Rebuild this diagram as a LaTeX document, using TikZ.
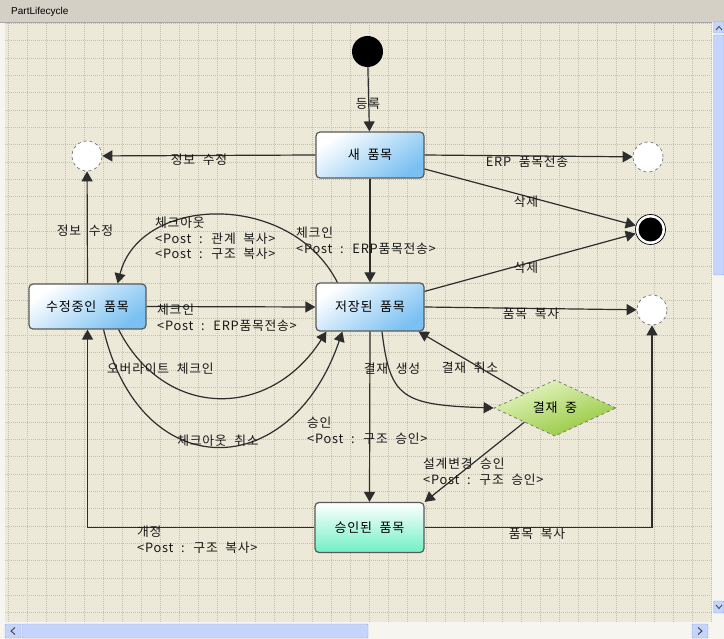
\documentclass[tikz,border=0pt]{standalone}
\usepackage{fontspec}
\setmainfont[LetterSpace=6,WordSpace=2.1]{Noto Sans CJK KR}
\newfontfamily\uifont{Liberation Sans}
\usetikzlibrary{arrows.meta,shapes.geometric,calc}
\definecolor{canvas}{RGB}{236,233,216}
\definecolor{gridc}{RGB}{196,192,176}
\definecolor{chrome}{RGB}{212,208,198}
\definecolor{linec}{RGB}{45,45,45}
\definecolor{stblue}{RGB}{122,192,242}
\definecolor{staqua}{RGB}{112,240,196}
\definecolor{stgreen}{RGB}{146,198,56}
\definecolor{stgreenl}{RGB}{232,246,200}
\definecolor{sbthumb}{RGB}{196,212,250}
\definecolor{sbedge}{RGB}{150,172,230}
\definecolor{sbtrack}{RGB}{246,245,240}
\begin{document}
\begin{tikzpicture}[x=1pt,y=-1pt,
  state/.style={rectangle, rounded corners=4pt, draw=black!65, line width=1.2pt,
    minimum width=108pt, minimum height=46pt, inner sep=0pt,
    top color=white, bottom color=stblue, shading angle=35,
    font=\fontsize{13}{15}\selectfont},
  pseudo/.style={circle, draw=black!55, dashed, line width=0.7pt, fill=white,
    minimum size=30pt, inner sep=0pt},
  arr/.style={draw=linec, line width=1.2pt, -{Triangle[length=10pt,width=11pt]}},
  lbl/.style={font=\fontsize{12.8}{15.5}\selectfont, inner sep=0pt, align=left, text=black!90}
]
\useasboundingbox (0,0) rectangle (724,639);
% window chrome
\fill[sbtrack] (0,0) rectangle (724,639);
\fill[chrome] (0,0) rectangle (724,22);
\draw[black!35, line width=0.6pt] (0,22) -- (724,22);
\node[anchor=west, font=\uifont\fontsize{10}{12}\selectfont, inner sep=0pt] (title) at (11,12) {PartLifecycle};
\fill[canvas] (5,23) rectangle (712,622);
\foreach \gx in {8,27,...,712} {
  \draw[gridc, line width=0.6pt, dash pattern=on 1pt off 1pt] (\gx,23) -- (\gx,622);
}
\foreach \gy in {23.3,40.63,...,622} {
  \draw[gridc, line width=0.6pt, dash pattern=on 1pt off 1pt] (5,\gy) -- (712,\gy);
}
% right scrollbar
\fill[sbtrack] (712,22) rectangle (724,622);
\draw[sbedge, fill=sbthumb, rounded corners=1pt] (713.5,21.5) rectangle (724,33);
\draw[black!70, line width=0.9pt] (716,30) -- (719,26.5) -- (722,30);
\draw[sbedge, fill=sbthumb, rounded corners=1pt] (713.5,35) rectangle (724,275);
\draw[sbedge, fill=sbthumb, rounded corners=1pt] (713.5,601) rectangle (724,613);
\draw[black!70, line width=0.9pt] (716,605) -- (719,608.5) -- (722,605);
% bottom scrollbar
\fill[sbtrack] (0,622) rectangle (724,639);
\draw[sbedge, fill=sbthumb, rounded corners=1pt] (5,624) rectangle (21,638);
\draw[black!70, line width=1pt] (15,627.5) -- (11,631) -- (15,634.5);
\draw[sbedge, fill=sbthumb, rounded corners=1pt] (22,624) rectangle (368,638);
\draw[sbedge, fill=sbthumb, rounded corners=1pt] (692,624) rectangle (708,638);
\draw[black!70, line width=1pt] (698,627.5) -- (702,631) -- (698,634.5);

% states
\node[circle, fill=black, minimum size=31pt, inner sep=0pt] (init) at (367.5,51.5) {};
\node[state] (new) at (370,155) {새 품목};
\node[pseudo] (endL) at (87,156) {};
\node[pseudo] (endR1) at (648,157) {};
\node[circle, draw=black, line width=0.7pt, fill=white, minimum size=30pt, inner sep=0pt] (final) at (650.5,229.5) {};
\node[circle, fill=black, minimum size=24pt, inner sep=0pt] (finalin) at (final.center) {};
\node[state, minimum width=117pt, minimum height=45pt] (editing) at (87.5,306.5) {수정중인 품목};
\node[state, minimum height=48pt] (saved) at (370,307) {저장된 품목};
\node[pseudo] (endR2) at (652,310) {};
\node[diamond, draw=black!55, dashed, line width=0.7pt, minimum width=122pt, minimum height=56pt,
      inner sep=0pt, top color=stgreenl, bottom color=stgreen, shading angle=20,
      font=\fontsize{13}{15}\selectfont] (approving) at (555,408) {결재 중};
\node[state, minimum width=109pt, minimum height=50pt, bottom color=staqua] (approved) at (369.5,527.5) {승인된 품목};

% connectors
\draw[arr] (init) -- (new);
\draw[arr] (new.west) -- (endL);
\draw[arr] (new.east) -- (endR1);
\draw[arr] ($(new.east)+(0,14)$) -- (final);
\draw[arr] (new.south) -- (saved.north);
\draw[arr] ($(saved.north east)+(0,9)$) -- (final);
\draw[arr] (editing.north) -- (endL);
\draw[arr] ($(saved.north west)+(22,0)$) .. controls (290,190) and (140,195) .. ($(editing.north east)+(-29,0)$);
\draw[arr] (editing.east) -- (saved.west);
\draw[arr] ($(editing.south east)+(-28,0)$) .. controls (165,420) and (270,420) .. ($(saved.south west)+(11,0)$);
\draw[arr] ($(editing.south east)+(-43,0)$) .. controls (140,485) and (290,485) .. ($(saved.south west)+(27,0)$);
\draw[arr] (saved.south) -- (approved.north);
\draw[arr] ($(saved.south)+(12,0)$) .. controls (390,398) and (402,405) .. (approving.west);
\draw[arr] (approving.north west) -- ($(saved.south east)+(-6,0)$);
\draw[arr] (approving.south west) -- (approved.north east);
\draw[arr] (approved.west) -| (editing.south);
\draw[arr] (approved.east) -| (endR2.south);
\draw[arr] (saved.east) -- (endR2);

% labels
\node[lbl] (l1) at (368,104) {등록};
\node[lbl] (l2) at (199,160) {정보 수정};
\node[lbl] (l3) at (527,162) {ERP 품목전송};
\node[lbl] (l4) at (526,202) {삭제};
\node[lbl] (l5) at (526,268) {삭제};
\node[lbl] (l6) at (85,231) {정보 수정};
\node[lbl, anchor=north west] (l7) at (155,217) {체크아웃\\\textless Post : 관계 복사\textgreater\\\textless Post : 구조 복사\textgreater};
\node[lbl, anchor=north west] (l8) at (296,227) {체크인\\\textless Post : ERP품목전송\textgreater};
\node[lbl, anchor=north west] (l9) at (157,304) {체크인\\\textless Post : ERP품목전송\textgreater};
\node[lbl, anchor=west] (l10) at (107,369) {오버라이트 체크인};
\node[lbl] (l11) at (218,441) {체크아웃 취소};
\node[lbl, anchor=north west] (l12) at (307,417) {승인\\\textless Post : 구조 승인\textgreater};
\node[lbl] (l13) at (392,369) {결재 생성};
\node[lbl] (l14) at (470,368) {결재 취소};
\node[lbl] (l15) at (531,314) {품목 복사};
\node[lbl, anchor=north west] (l16) at (423,458) {설계변경 승인\\\textless Post : 구조 승인\textgreater};
\node[lbl, anchor=north west] (l17) at (137,526) {개정\\\textless Post : 구조 복사\textgreater};
\node[lbl] (l18) at (537,534) {품목 복사};
\end{tikzpicture}
\end{document}
